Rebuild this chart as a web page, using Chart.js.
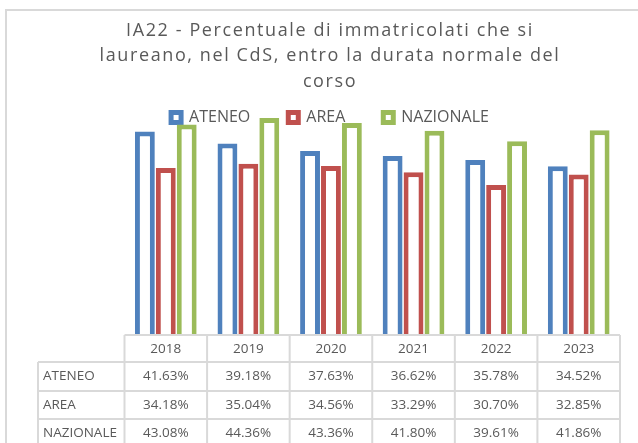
<!DOCTYPE html>
<html>
<head>
<meta charset="utf-8">
<script src="https://cdn.jsdelivr.net/npm/chart.js@4.4.0/dist/chart.umd.min.js"></script>
<style>
html,body{margin:0;padding:0;background:#ffffff;}
#wrap{width:638px;height:443px;position:relative;overflow:hidden;}
</style>
</head>
<body>
<div id="wrap"><canvas id="c" width="638" height="443"></canvas></div>
<script>
// ---- data ----
const categories = ['2018', '2019', '2020', '2021', '2022', '2023'];
const seriesNames = ['ATENEO', 'AREA', 'NAZIONALE'];
const ateneo = [41.63, 39.18, 37.63, 36.62, 35.78, 34.52];
const area = [34.18, 35.04, 34.56, 33.29, 30.70, 32.85];
const nazionale = [43.08, 44.36, 43.36, 41.80, 39.61, 41.86];
const titleLines = [
  'IA22 - Percentuale di immatricolati che si',
  'laureano, nel CdS, entro la durata normale del',
  'corso'
];
const seriesColors = ['#4F81BD', '#C0504D', '#9BBB59'];

const FONT = '"Open Sans", "Noto Sans", sans-serif';
const TEXT = '#595959';
const GRID = '#D9D9D9';

// outer chart frame (left and top edges visible)
const framePlugin = {
  id: 'frame',
  beforeDraw(chart) {
    const ctx = chart.ctx;
    ctx.save();
    ctx.fillStyle = '#ffffff';
    ctx.fillRect(0, 0, chart.width, chart.height);
    ctx.strokeStyle = GRID;
    ctx.lineWidth = 2;
    ctx.beginPath();
    ctx.moveTo(6, chart.height);
    ctx.lineTo(6, 10);
    ctx.lineTo(chart.width, 10);
    ctx.stroke();
    ctx.restore();
  }
};

// wider letter spacing for the title, as in the original rendering
const titleSpacing = {
  id: 'titleSpacing',
  afterInit(chart) {
    const tb = chart.titleBlock;
    if (!tb || tb._spaced) return;
    const orig = tb.draw;
    tb.draw = function (area) {
      const c = this.ctx;
      const prev = c.letterSpacing;
      c.letterSpacing = '1.6px';
      orig.call(this, area);
      c.letterSpacing = prev || '0px';
    };
    tb._spaced = true;
  }
};

// legend overlaps the top of the plot area, as in the original
const legendOverlay = {
  id: 'legendOverlay',
  afterLayout(chart) {
    const lg = chart.legend;
    if (lg) { lg.top -= 20; lg.bottom = lg.top + 60; }
  }
};

// data table under the plot, aligned to the category columns
const dataTable = {
  id: 'dataTable',
  afterDraw(chart) {
    const {ctx, chartArea} = chart;
    const n = categories.length;
    const colW = (chartArea.right - chartArea.left) / n;
    const left = chartArea.left, right = chartArea.right;
    const top = chartArea.bottom;
    const rowsY = [top, top + 27, top + 56, top + 84, top + 112];
    const labelLeft = 38;
    const series = [ateneo, area, nazionale];
    ctx.save();
    ctx.strokeStyle = GRID;
    ctx.lineWidth = 2;
    ctx.beginPath();
    ctx.moveTo(left, rowsY[0]); ctx.lineTo(right, rowsY[0]);
    for (let r = 1; r < rowsY.length; r++) {
      ctx.moveTo(labelLeft, rowsY[r]); ctx.lineTo(right, rowsY[r]);
    }
    for (let i = 0; i <= n; i++) {
      const xx = left + i * colW;
      ctx.moveTo(xx, rowsY[0]); ctx.lineTo(xx, rowsY[4]);
    }
    ctx.moveTo(labelLeft, rowsY[1]); ctx.lineTo(labelLeft, rowsY[4]);
    ctx.stroke();

    ctx.fillStyle = TEXT;
    ctx.font = '13.5px ' + FONT;
    ctx.textBaseline = 'middle';
    ctx.textAlign = 'center';
    for (let i = 0; i < n; i++) {
      const cx = left + (i + 0.5) * colW;
      ctx.fillText(categories[i], cx, (rowsY[0] + rowsY[1]) / 2 + 1);
      for (let s = 0; s < series.length; s++) {
        ctx.fillText(series[s][i].toFixed(2) + '%', cx, (rowsY[s + 1] + rowsY[s + 2]) / 2);
      }
    }
    ctx.textAlign = 'left';
    for (let s = 0; s < seriesNames.length; s++) {
      ctx.fillText(seriesNames[s], labelLeft + 5, (rowsY[s + 1] + rowsY[s + 2]) / 2);
    }
    ctx.restore();
  }
};

const values = [ateneo, area, nazionale];
new Chart(document.getElementById('c'), {
  type: 'bar',
  data: {
    labels: categories,
    datasets: seriesNames.map((name, i) => ({
      label: name,
      data: values[i],
      backgroundColor: '#ffffff',
      borderColor: seriesColors[i],
      borderWidth: 5,
      borderSkipped: 'start',
      categoryPercentage: 0.76,
      barPercentage: 0.95
    }))
  },
  options: {
    responsive: false,
    devicePixelRatio: 1,
    animation: false,
    layout: { padding: { top: 10, left: 22, right: 0, bottom: 108 } },
    plugins: {
      title: {
        display: true,
        text: titleLines,
        color: TEXT,
        font: { family: FONT, size: 18, weight: 'normal', lineHeight: '25.5px' },
        padding: { top: 8, bottom: -3 }
      },
      legend: {
        display: true,
        position: 'top',
        maxHeight: 1,
        labels: {
          color: TEXT,
          font: { family: FONT, size: 16 },
          boxWidth: 10,
          boxHeight: 10,
          padding: 38
        }
      },
      tooltip: { enabled: false }
    },
    scales: {
      x: { display: false },
      y: {
        display: true,
        min: 0,
        max: 49.6,
        ticks: { display: false },
        grid: { display: false },
        border: { display: false },
        afterFit(s) { s.width = 102.5; }
      },
      y2: {
        type: 'linear',
        position: 'right',
        display: true,
        ticks: { display: false },
        grid: { display: false },
        border: { display: false },
        afterFit(s) { s.width = 18; }
      }
    }
  },
  plugins: [framePlugin, titleSpacing, legendOverlay, dataTable]
});
</script>
</body>
</html>
